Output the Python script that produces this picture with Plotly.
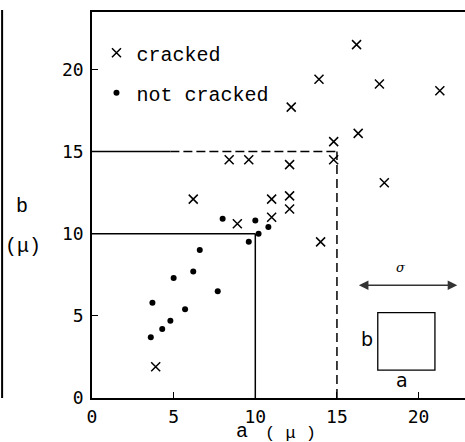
import plotly.graph_objects as go

# ---- data ----
cracked_a = [16.2, 13.9, 17.6, 21.3, 12.2, 16.3, 14.8, 14.8, 8.4, 9.6, 12.1, 17.9,
             6.2, 11.0, 12.1, 12.1, 11.0, 8.9, 14.0, 3.9]
cracked_b = [21.5, 19.4, 19.1, 18.7, 17.7, 16.1, 15.6, 14.5, 14.5, 14.5, 14.2, 13.1,
             12.1, 12.1, 12.3, 11.5, 11.0, 10.6, 9.5, 1.9]

not_cracked_a = [8.0, 10.0, 10.8, 10.2, 9.6, 6.6, 6.2, 5.0, 7.7, 3.7, 5.7, 4.8, 4.3, 3.6]
not_cracked_b = [10.9, 10.8, 10.4, 10.0, 9.5, 9.0, 7.7, 7.3, 6.5, 5.8, 5.4, 4.7, 4.2, 3.7]

thresholds = [10, 15]
tick_vals = [0, 5, 10, 15, 20]
tick_text = ["0", "5", "10", "15", "20"]

MONO = "Liberation Mono"
TICKF = "DejaVu Sans Mono"

fig = go.Figure()
fig.add_trace(go.Scatter(
    x=cracked_a, y=cracked_b, mode="markers", name="cracked", legendgroup="g1",
    marker=dict(symbol="x-thin", size=9, color="black", line=dict(width=1.5, color="black")),
))
fig.add_trace(go.Scatter(
    x=not_cracked_a, y=not_cracked_b, mode="markers", name="not cracked", legendgroup="g2",
    marker=dict(symbol="circle", size=6, color="black"),
))

t1, t2 = thresholds
shapes = [
    # solid 10 box
    dict(type="line", x0=0, x1=t1, y0=t1, y1=t1, line=dict(color="black", width=1.5)),
    dict(type="line", x0=t1, x1=t1, y0=0, y1=t1, line=dict(color="black", width=1.5)),
    # 15 box: solid start then dashed
    dict(type="line", x0=0, x1=4.8, y0=t2, y1=t2, line=dict(color="black", width=1.5)),
    dict(type="line", x0=4.8, x1=t2, y0=t2, y1=t2,
         line=dict(color="black", width=1.5, dash="9px,4px")),
    dict(type="line", x0=t2, x1=t2, y0=0, y1=t2,
         line=dict(color="black", width=1.5, dash="9px,5px")),
    # inset square
    dict(type="rect", x0=17.5, x1=21.0, y0=1.7, y1=5.2, line=dict(color="black", width=1.3)),
    # stray left border line of the scan
    dict(type="line", xref="paper", yref="paper", x0=-0.241, x1=-0.241, y0=0.0, y1=1.005,
         line=dict(color="black", width=2)),
]

C = dict(xanchor="center", yanchor="middle", showarrow=False)
annotations = [
    dict(x=22.37, y=6.86, ax=16.25, ay=6.86, xref="x", yref="y", axref="x", ayref="y",
         text="", showarrow=True, arrowhead=2, startarrowhead=2, arrowside="end+start",
         arrowsize=1.2, startarrowsize=1.2, arrowwidth=1.6, arrowcolor="#333"),
    dict(x=18.9, y=7.95, text="<i>σ</i>",
         font=dict(family="DejaVu Serif", size=13, color="black"), **C),
    dict(x=16.85, y=3.6, text="b",
         font=dict(family="DejaVu Sans", size=19, color="black"), **C),
    dict(x=19.0, y=1.1, text="a",
         font=dict(family="DejaVu Sans", size=19, color="black"), **C),
    # y axis title
    dict(xref="paper", yref="paper", x=(22 - 92) / 373, y=(398 - 206) / 386, text="b",
         font=dict(family=MONO, size=20, color="black"), **C),
    dict(xref="paper", yref="paper", x=(23 - 92) / 373, y=(398 - 247) / 386, text="(μ)",
         font=dict(family=MONO, size=20, color="black"), **C),
    # x axis title
    dict(xref="paper", yref="paper", x=(241.5 - 92) / 373, y=(398 - 431) / 386, text="a",
         font=dict(family=MONO, size=20, color="black"), **C),
    dict(xref="paper", yref="paper", x=(290 - 92) / 373, y=(398 - 433) / 386, text="( μ )",
         font=dict(family=MONO, size=17, color="black"), **C),
]

fig.update_layout(
    width=465, height=442,
    margin=dict(l=92, r=0, t=12, b=44),
    paper_bgcolor="white", plot_bgcolor="white",
    showlegend=True,
    legend=dict(x=0.012, y=0.945, xanchor="left", yanchor="top", bgcolor="rgba(0,0,0,0)",
                font=dict(family=MONO, size=20, color="black"), tracegroupgap=11,
                borderwidth=0),
    shapes=shapes, annotations=annotations,
)
fig.update_xaxes(range=[0, 373 / 16.33], showgrid=False, zeroline=False,
                 showline=True, linecolor="black", linewidth=1.5, mirror=True,
                 ticks="inside", ticklen=6, tickwidth=1.3, tickcolor="black",
                 tickvals=tick_vals, ticktext=tick_text, ticklabelstandoff=2,
                 tickfont=dict(family=TICKF, size=18, color="black"))
fig.update_yaxes(range=[0, 386 / 16.435], showgrid=False, zeroline=False,
                 showline=True, linecolor="black", linewidth=1.5, mirror=False,
                 ticks="inside", ticklen=6, tickwidth=1.3, tickcolor="black",
                 tickvals=tick_vals, ticktext=tick_text, ticklabelstandoff=3,
                 tickfont=dict(family=TICKF, size=18, color="black"))

fig.write_html("out.html", config={"displayModeBar": False},
               post_script="document.body.style.margin='0';")
